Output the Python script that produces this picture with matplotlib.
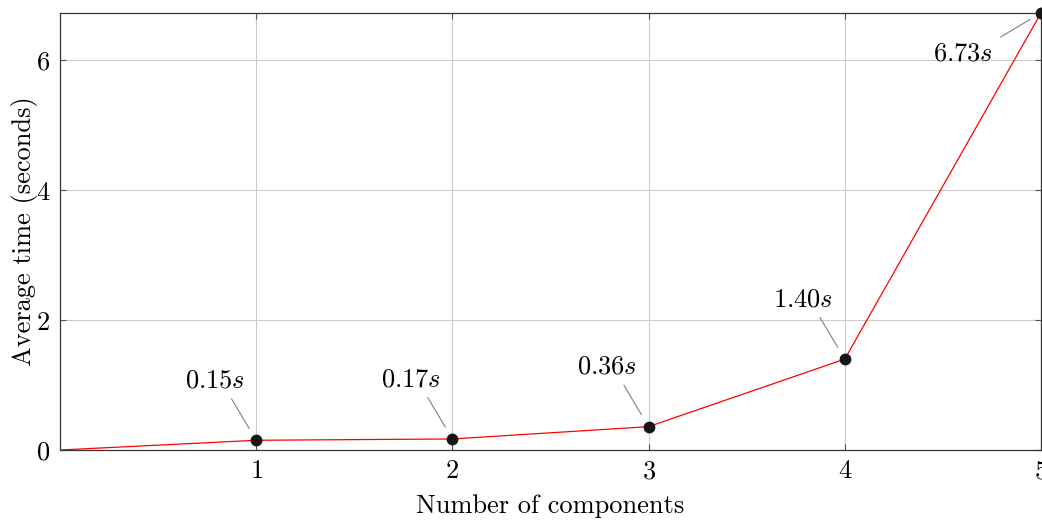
import matplotlib.pyplot as plt

plt.rcParams['font.family'] = 'cmr10'
plt.rcParams['mathtext.fontset'] = 'cm'
plt.rcParams['axes.formatter.use_mathtext'] = True

# data
components = [0, 1, 2, 3, 4, 5]
avg_time = [0, 0.15, 0.17, 0.36, 1.40, 6.73]
labels = ['0.15', '0.17', '0.36', '1.40', '6.73']
xticks = [1, 2, 3, 4, 5]
yticks = [0, 2, 4, 6]

fig = plt.figure(figsize=(10.42, 5.2), dpi=100)
ax = fig.add_axes([0.0576, 0.1346, 0.9414, 0.8404])

ax.plot(components, avg_time, color='red', lw=0.9, zorder=3)
ax.plot(components[1:], avg_time[1:], 'o', color='#151515', ms=7.5, zorder=4, clip_on=False)

for i, (x, y) in enumerate(zip(components[1:], avg_time[1:])):
    if i < 4:
        ax.annotate(labels[i] + r'$s$', (x, y), xytext=(-30, 43), textcoords='offset points',
                    ha='center', va='center', fontsize=19,
                    arrowprops=dict(arrowstyle='-', color='gray', lw=0.8,
                                    relpos=(0.72, 0), shrinkA=3, shrinkB=10))
    else:
        ax.annotate(labels[i] + r'$s$', (x, y), xytext=(-56, -29), textcoords='offset points',
                    ha='center', va='center', fontsize=19,
                    arrowprops=dict(arrowstyle='-', color='gray', lw=0.8,
                                    relpos=(1, 1), shrinkA=4, shrinkB=9))

ax.set_xlim(0, 5)
ax.set_ylim(0, 6.73)
ax.set_xticks(xticks)
ax.set_yticks(yticks)
ax.grid(True, color='#cccccc', lw=0.8)
ax.set_axisbelow(True)
ax.tick_params(direction='in', top=True, right=True, length=4, labelsize=19,
               color='#555555', pad=7)
for s in ax.spines.values():
    s.set_color('#333333')
    s.set_linewidth(0.9)

ax.set_xlabel('Number of components', fontsize=19, labelpad=8)
ax.set_ylabel('Average time (seconds)', fontsize=19, va='center')
ax.yaxis.set_label_coords(-0.036, 0.5)

fig.savefig('out.png', dpi=100)
